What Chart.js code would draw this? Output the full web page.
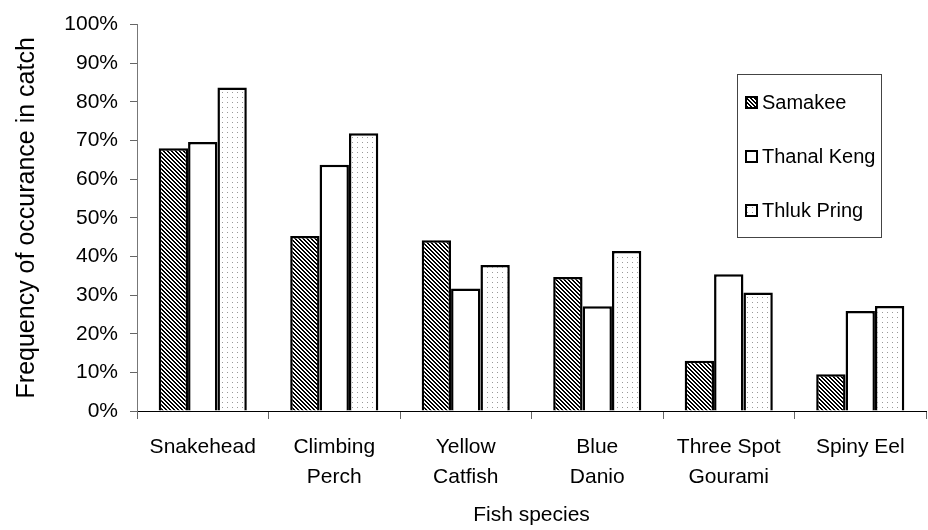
<!DOCTYPE html>
<html lang="en">
<head>
  <meta charset="UTF-8">
  <title>Frequency of occurance in catch</title>
  <script src="https://cdn.jsdelivr.net/npm/chart.js"></script>
  <style>
    html, body { margin: 0; padding: 0; background: #fff; }
    .dash { width: 928px; height: 530px; }
  </style>
</head>
<body>
  <div class="dash">
    <canvas id="myChart"></canvas>
  </div>
<script>
  // dados
  const especies = [['Snakehead'], ['Climbing', 'Perch'], ['Yellow', 'Catfish'], ['Blue', 'Danio'], ['Three Spot', 'Gourami'], ['Spiny Eel']];
  const nomesLocais = ['Samakee', 'Thanal Keng', 'Thluk Pring'];
  const samakee = [68, 45.3, 44.2, 34.7, 13, 9.5];
  const thanalKeng = [69.6, 63.7, 31.7, 27.1, 35.4, 25.9];
  const thlukPring = [83.7, 71.9, 37.8, 41.4, 30.7, 27.2];
  const ticksY = [0, 10, 20, 30, 40, 50, 60, 70, 80, 90, 100];

  const fonte = 'Liberation Sans, Arial, sans-serif';

  // padroes de preenchimento (hachura e pontilhado)
  function criarHachura() {
    let c = document.createElement('canvas');
    c.width = 4; c.height = 4;
    let ctx = c.getContext('2d');
    ctx.fillStyle = '#fff';
    ctx.fillRect(0, 0, 4, 4);
    ctx.fillStyle = '#000';
    for (let y = 0; y < 4; y++) {
      for (let x = 0; x < 4; x++) {
        if ((x - y + 8) % 4 < 2) ctx.fillRect(x, y, 1, 1);
      }
    }
    return ctx.createPattern(c, 'repeat');
  }

  function criarPontos() {
    let c = document.createElement('canvas');
    c.width = 5; c.height = 5;
    let ctx = c.getContext('2d');
    ctx.fillStyle = '#fff';
    ctx.fillRect(0, 0, 5, 5);
    ctx.fillStyle = '#999';
    ctx.fillRect(2, 2, 1, 1);
    return ctx.createPattern(c, 'repeat');
  }

  const hachura = criarHachura();
  const pontos = criarPontos();

  // legenda desenhada dentro da area do grafico
  const legendaCaixa = {
    id: 'legendaCaixa',
    afterDraw(chart) {
      const ctx = chart.ctx;
      const x0 = 737, y0 = 74, w = 144, h = 163;
      ctx.save();
      ctx.fillStyle = '#fff';
      ctx.fillRect(x0, y0, w, h);
      ctx.strokeStyle = '#444';
      ctx.lineWidth = 1;
      ctx.strokeRect(x0 + 0.5, y0 + 0.5, w, h);
      const ys = [102, 156, 210];
      chart.data.datasets.forEach(function (ds, i) {
        const cy = ys[i];
        ctx.fillStyle = ds.backgroundColor;
        ctx.fillRect(746, cy - 5, 11, 11);
        ctx.strokeStyle = '#000';
        ctx.lineWidth = 2;
        ctx.strokeRect(746, cy - 5, 11, 11);
        ctx.fillStyle = '#000';
        ctx.font = '20px ' + fonte;
        ctx.textBaseline = 'middle';
        ctx.textAlign = 'left';
        ctx.fillText(ds.label, 762, cy + 1);
      });
      ctx.restore();
    }
  };

  let dados = {
    labels: especies,
    datasets: [
      { label: nomesLocais[0], data: samakee, backgroundColor: hachura },
      { label: nomesLocais[1], data: thanalKeng, backgroundColor: '#fff' },
      { label: nomesLocais[2], data: thlukPring, backgroundColor: pontos }
    ].map(function (d) {
      d.borderColor = '#000';
      d.borderWidth = 2.5;
      d.barPercentage = 1;
      d.categoryPercentage = 0.67;
      return d;
    })
  };

  const config = {
    type: 'bar',
    data: dados,
    options: {
      responsive: true,
      maintainAspectRatio: false,
      animation: false,
      layout: { padding: { top: 20, right: 2, left: 0, bottom: 0 } },
      plugins: {
        legend: { display: false },
        tooltip: { enabled: false }
      },
      scales: {
        x: {
          grid: { offset: true, drawOnChartArea: false, drawTicks: true, tickLength: 8, color: '#666' },
          border: { color: '#000', width: 1 },
          ticks: { color: '#000', font: { family: fonte, size: 21, lineHeight: 1.45 }, padding: 13, maxRotation: 0, autoSkip: false },
          title: { display: true, text: 'Fish species', color: '#000', font: { family: fonte, size: 21 }, padding: { top: 0, bottom: 2 } },
          afterFit: function (s) { s.height = 119; }
        },
        y: {
          min: 0,
          max: 100,
          afterBuildTicks: function (s) { s.ticks = ticksY.map(function (v) { return { value: v }; }); },
          grid: { drawOnChartArea: false, drawTicks: true, tickLength: 7, color: '#666' },
          border: { color: '#777', width: 1 },
          ticks: { color: '#000', font: { family: fonte, size: 21 }, padding: 12, callback: function (v) { return v + '%'; } },
          title: { display: true, text: 'Frequency of occurance in catch', color: '#000', font: { family: fonte, size: 25 }, padding: { top: 12, bottom: 0 } },
          afterFit: function (s) { s.width = 137; }
        }
      }
    },
    plugins: [legendaCaixa]
  };

  let myChart = new Chart(document.getElementById('myChart'), config);
</script>
</body>
</html>
